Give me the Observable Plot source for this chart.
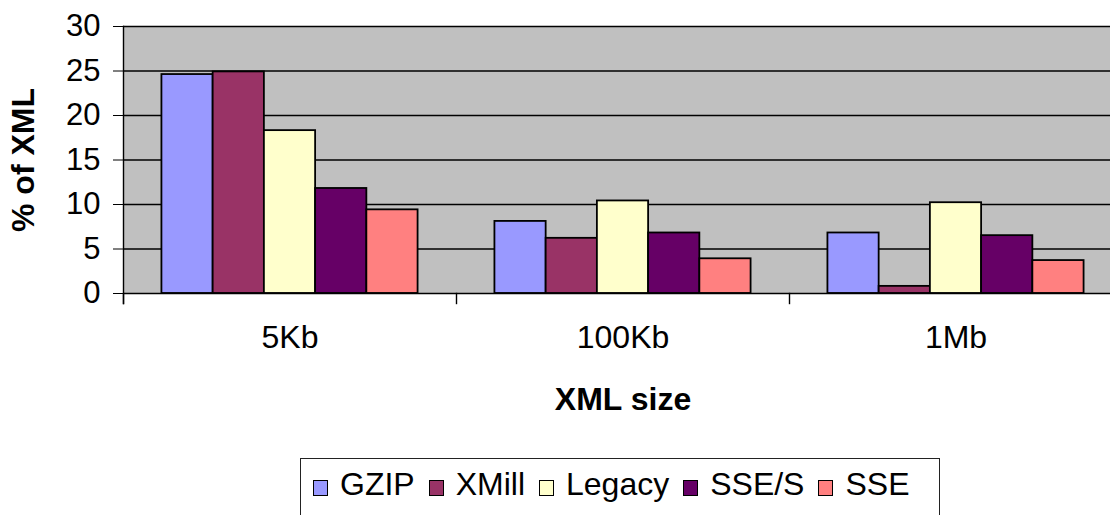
<!DOCTYPE html>
<html>
<head>
<meta charset="utf-8">
<script src="https://cdn.jsdelivr.net/npm/d3@7"></script>
<script src="https://cdn.jsdelivr.net/npm/@observablehq/plot@0.6"></script>
<style>
  html, body { margin: 0; padding: 0; background: #fff; overflow: hidden; }
  #wrap { width: 1110px; overflow: hidden; }
  #chart svg { max-width: none !important; display: block; }
  .legend {
    margin-left: 300px; margin-top: 8px; width: 640px; height: 80px;
    border: 1px solid #222; box-sizing: border-box;
    display: flex; align-items: flex-start; padding: 9px 0 0 12px;
    font-family: "Liberation Sans", Arial, sans-serif; font-size: 32px; line-height: 32px; color: #000;
  }
  .legend .item { display: flex; align-items: flex-start; margin-right: 14px; }
  .legend .sw { width: 15px; height: 16px; border: 1px solid #000; box-sizing: border-box; margin-top: 12px; margin-right: 12px; }
</style>
</head>
<body>
<div id="wrap"><div id="chart"></div></div>
<script>
const sizes = ["5Kb", "100Kb", "1Mb"];
const methods = ["GZIP", "XMill", "Legacy", "SSE/S", "SSE"];
const colors = ["#9999ff", "#993366", "#ffffcc", "#660066", "#ff8080"];
const gzip = [24.6, 8.1, 6.8];
const xmill = [24.9, 6.2, 0.8];
const legacy = [18.3, 10.4, 10.2];
const sseS = [11.8, 6.8, 6.5];
const sse = [9.4, 3.9, 3.7];
const yTicks = [0, 5, 10, 15, 20, 25, 30];
const series = [gzip, xmill, legacy, sseS, sse];

const rows = sizes.flatMap((s, i) => methods.map((m, j) => ({size: s, method: m, value: series[j][i]})));

const plot = Plot.plot({
  width: 1122,
  height: 450,
  marginTop: 26,
  marginBottom: 157,
  marginLeft: 123,
  marginRight: 0,
  style: {fontFamily: "'Liberation Sans', Arial, sans-serif", fontSize: "31px", color: "#000", background: "transparent", maxWidth: "none"},
  fx: {domain: sizes, padding: 0, round: false},
  x: {domain: methods, paddingInner: 0, paddingOuter: 0.75, axis: null, round: false},
  y: {domain: [0, 30]},
  color: {domain: methods, range: colors},
  marks: [
    Plot.frame({fill: "#c0c0c0", facet: "super"}),
    Plot.ruleY(yTicks.filter(v => v > 0), {stroke: "#000", strokeWidth: 1.4}),
    Plot.frame({anchor: "left", insetTop: 267, insetBottom: -10, stroke: "#000", strokeWidth: 1.4}),
    Plot.frame({anchor: "left", facet: "super", insetBottom: -10, stroke: "#000", strokeWidth: 1.4}),
    Plot.barY(rows, {fx: "size", x: "method", y: "value", fill: "method", stroke: "#000", strokeWidth: 1.8}),
    Plot.ruleY([0], {stroke: "#000", strokeWidth: 1.6}),
    Plot.axisY({ticks: yTicks, tickSize: 10, tickPadding: 13, fontSize: 31, stroke: "#000", label: "% of XML", labelArrow: "none", labelAnchor: "center", labelOffset: 112}),
    Plot.axisFx({anchor: "bottom", tickSize: 0, tickPadding: 32, fontSize: 32, label: "XML size", labelArrow: "none", labelAnchor: "center", labelOffset: 116})
  ]
});

d3.select(plot).selectAll("text")
  .filter(function() { const t = this.textContent.trim(); return t.startsWith("% of XML") || t.startsWith("XML size"); })
  .attr("font-weight", "bold").attr("font-size", "32px");

document.getElementById("chart").appendChild(plot);

const legend = d3.select("#wrap").append("div").attr("class", "legend");
methods.forEach((m, i) => {
  const it = legend.append("div").attr("class", "item");
  it.append("div").attr("class", "sw").style("background", colors[i]);
  it.append("span").text(m);
});
</script>
</body>
</html>
